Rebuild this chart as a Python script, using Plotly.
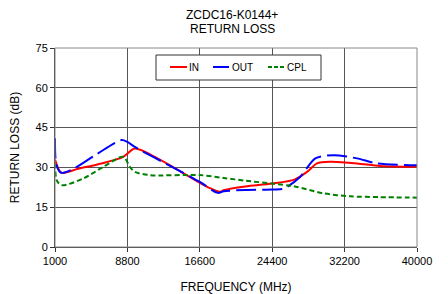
import plotly.graph_objects as go

freq_in = [1000, 1700, 3500, 6000, 8350, 9600, 12000, 15000, 17500, 18750, 19180, 21500, 24400, 26800, 28150, 29230, 30660, 33540, 36050, 40000]
rl_in = [33, 28, 29.5, 31.5, 34, 37.1, 33.5, 27.5, 22.5, 20.8, 21.4, 22.8, 23.9, 25.4, 28.3, 31.5, 32.1, 31.5, 30.5, 30.2]

freq_out = [1000, 1150, 1650, 3000, 5500, 8170, 8800, 9600, 13600, 16600, 18540, 19180, 21500, 24400, 25640, 27400, 29050, 31000, 33540, 35700, 40000]
rl_out = [41, 31, 28, 29.5, 35, 40.3, 39.6, 37.7, 30.2, 24.5, 20.4, 21, 21.5, 21.7, 22, 26.4, 33.4, 34.6, 33.4, 31.5, 30.8]

freq_cpl = [1000, 1200, 1720, 4050, 6200, 8350, 9070, 9600, 11200, 16600, 19180, 21500, 24400, 26700, 29950, 32800, 36000, 40000]
rl_cpl = [31.5, 25, 23.3, 25.8, 30.2, 34, 30.2, 28.3, 27.1, 27.1, 26.0, 25, 23.9, 22.9, 20.2, 19.1, 18.8, 18.6]

x_ticks = [1000, 8800, 16600, 24400, 32200, 40000]
y_ticks = [0, 15, 30, 45, 60, 75]

series_names = ["IN", "OUT", "CPL"]
series_colors = ["#ff0000", "#0000ff", "#008000"]
series_dash = ["solid", "20px,6px", "5px,3px"]

FONT = "Liberation Sans, Arial, sans-serif"
W, H = 448, 294
L, R, T, B = 55, 31, 48, 47
PW, PH = W - L - R, H - T - B


def px(x):
    return (x - L) / PW


def py(y):
    return (H - B - y) / PH


fig = go.Figure()
for xs, ys, nm, col, dsh in zip([freq_in, freq_out, freq_cpl], [rl_in, rl_out, rl_cpl],
                                series_names, series_colors, series_dash):
    fig.add_trace(go.Scatter(x=xs, y=ys, name=nm, mode="lines", showlegend=False,
                             line=dict(color=col, width=2, dash=dsh, shape="spline", smoothing=0.8)))

shapes = [dict(type="rect", xref="paper", yref="paper", x0=0, x1=1, y0=0, y1=1,
               line=dict(color="#888", width=1), layer="above")]
annotations = [
    dict(text="ZCDC16-K0144+", xref="paper", yref="paper", x=px(232), y=py(15),
         showarrow=False, xanchor="center", yanchor="middle", font=dict(family=FONT, size=12)),
    dict(text="RETURN LOSS", xref="paper", yref="paper", x=px(232), y=py(29),
         showarrow=False, xanchor="center", yanchor="middle", font=dict(family=FONT, size=12)),
]
# custom legend box
shapes.append(dict(type="rect", xref="paper", yref="paper", x0=px(156), x1=px(321),
                   y0=py(80), y1=py(55), line=dict(color="#333", width=1),
                   fillcolor="white", layer="above"))
leg_x = [(170, 187), (213, 229), (268, 285)]
leg_text_x = [187, 230, 285]
for (x0, x1), tx, nm, col, dsh in zip(leg_x, leg_text_x, series_names, series_colors, series_dash):
    shapes.append(dict(type="line", xref="paper", yref="paper", x0=px(x0), x1=px(x1),
                       y0=py(67), y1=py(67), line=dict(color=col, width=2,
                       dash="solid" if dsh != "5px,3px" else "4px,2px"), layer="above"))
    annotations.append(dict(text=nm, xref="paper", yref="paper", x=px(tx), y=py(67),
                            showarrow=False, xanchor="left", yanchor="middle",
                            font=dict(family=FONT, size=10, color="black")))

fig.update_layout(
    width=W, height=H,
    margin=dict(l=L, r=R, t=T, b=B, autoexpand=False),
    paper_bgcolor="white", plot_bgcolor="white",
    font=dict(family=FONT, size=11, color="black"),
    showlegend=False,
    shapes=shapes,
    annotations=annotations,
)
fig.update_xaxes(range=[1000, 40000], tickvals=x_ticks, ticktext=[str(v) for v in x_ticks],
                 showgrid=True, gridcolor="#555", gridwidth=1,
                 showline=True, linecolor="#333", linewidth=1,
                 ticks="outside", ticklen=4, tickcolor="#333",
                 tickfont=dict(family=FONT, size=11), automargin=False,
                 title=dict(text="FREQUENCY (MHz)", font=dict(family=FONT, size=12), standoff=16),
                 zeroline=False)
fig.update_yaxes(range=[0, 75], tickvals=y_ticks, ticktext=[str(v) for v in y_ticks],
                 showgrid=True, gridcolor="#555", gridwidth=1,
                 showline=True, linecolor="#333", linewidth=1,
                 ticks="outside", ticklen=4, tickcolor="#333",
                 tickfont=dict(family=FONT, size=11), automargin=False,
                 title=dict(text="RETURN LOSS (dB)", font=dict(family=FONT, size=12), standoff=13),
                 zeroline=False)

fig.write_html("out.html", config={"displayModeBar": False},
               post_script="document.body.style.margin='0';document.body.style.overflow='hidden';")
